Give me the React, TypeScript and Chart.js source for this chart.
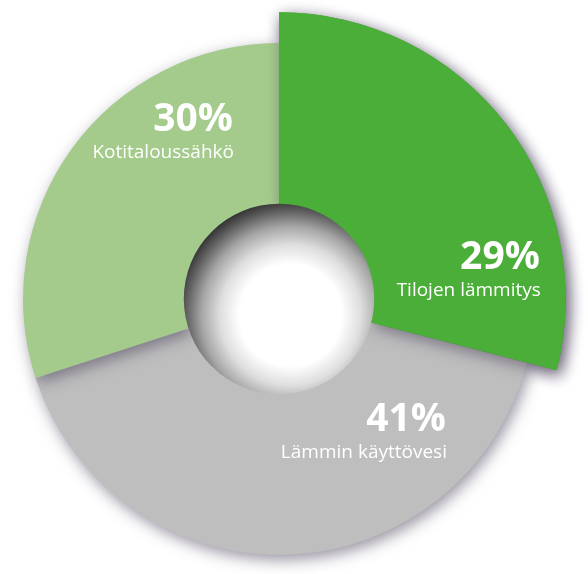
import React, { useEffect, useRef } from "react";
import { Chart, registerables } from "chart.js";

Chart.register(...registerables);

// ---- data ----
const categories = ["Tilojen lämmitys", "Lämmin käyttövesi", "Kotitaloussähkö"];
const shares = [29, 41, 30];
const percentLabels = ["29%", "41%", "30%"];
const colors = ["#4bae38", "#bebebe", "#a4cb8c"];

// ---- styling ----
const HIGHLIGHT_SCALE = 1.12; // first slice drawn with a larger outer radius
const LABEL_ANCHORS = [
  { t: 0.8, r: 0.874 },
  { t: 0.162, r: 0.732 },
  { t: 0.858, r: 0.492 },
];
const FONT = '"Open Sans", "Noto Sans", sans-serif';

const decorPlugin = {
  id: "decor",
  afterDatasetsUpdate(chart: any) {
    const meta = chart.getDatasetMeta(0);
    const el = meta.data[0];
    if (el) el.outerRadius = el.outerRadius * HIGHLIGHT_SCALE;
  },
  beforeDatasetsDraw(chart: any) {
    const ctx = chart.ctx;
    ctx.save();
    ctx.shadowColor = "rgba(70,60,85,0.55)";
    ctx.shadowBlur = 15;
    ctx.shadowOffsetX = 3;
    ctx.shadowOffsetY = 5;
  },
  afterDatasetsDraw(chart: any) {
    const ctx = chart.ctx;
    const meta = chart.getDatasetMeta(0);
    // redraw the highlighted slice on top so its shadow falls on neighbours
    meta.data[0].draw(ctx);
    ctx.restore();

    // 3D hole
    const el0 = meta.data[0];
    const cx = el0.x;
    const cy = el0.y;
    const r = el0.innerRadius;
    ctx.save();
    const gx = cx + r * 0.12;
    const gy = cy + r * 0.17;
    const g = ctx.createRadialGradient(gx, gy, 0, gx, gy, r * 1.2);
    g.addColorStop(0, "#ffffff");
    g.addColorStop(0.45, "#ffffff");
    g.addColorStop(0.62, "#dedede");
    g.addColorStop(0.78, "#a6a6a6");
    g.addColorStop(0.92, "#5e5e5e");
    g.addColorStop(1, "#383838");
    ctx.fillStyle = g;
    ctx.beginPath();
    ctx.arc(cx, cy, r + 0.5, 0, Math.PI * 2);
    ctx.fill();
    ctx.restore();

    // labels
    ctx.save();
    ctx.fillStyle = "#ffffff";
    ctx.textAlign = "right";
    ctx.textBaseline = "alphabetic";
    meta.data.forEach((el: any, i: number) => {
      const a = LABEL_ANCHORS[i];
      const ang = el.startAngle + (el.endAngle - el.startAngle) * a.t;
      const rad = el.innerRadius + (el.outerRadius - el.innerRadius) * a.r;
      const x = el.x + Math.cos(ang) * rad;
      const y = el.y + Math.sin(ang) * rad;
      ctx.font = `bold 39px ${FONT}`;
      ctx.fillText(percentLabels[i], x, y);
      ctx.font = `19px ${FONT}`;
      ctx.fillText(categories[i], x + 1, y + 27);
    });
    ctx.restore();
  },
};

export default function App() {
  const ref = useRef<HTMLCanvasElement | null>(null);

  useEffect(() => {
    if (!ref.current) return;
    const chart = new Chart(ref.current, {
      type: "doughnut",
      data: {
        labels: categories,
        datasets: [
          {
            data: shares,
            backgroundColor: colors,
            borderWidth: 0,
            clip: false as any,
          },
        ],
      },
      options: {
        animation: false,
        responsive: true,
        maintainAspectRatio: false,
        cutout: "37%",
        rotation: 0,
        events: [],
        layout: { padding: { left: 9, right: 39, top: 43, bottom: 19 } },
        plugins: {
          legend: { display: false },
          tooltip: { enabled: false },
        },
      },
      plugins: [decorPlugin],
    });
    return () => chart.destroy();
  }, []);

  return (
    <div
      style={{
        position: "absolute",
        left: 0,
        top: 0,
        width: 588,
        height: 574,
        background: "#ffffff",
      }}
    >
      <canvas ref={ref} />
    </div>
  );
}
